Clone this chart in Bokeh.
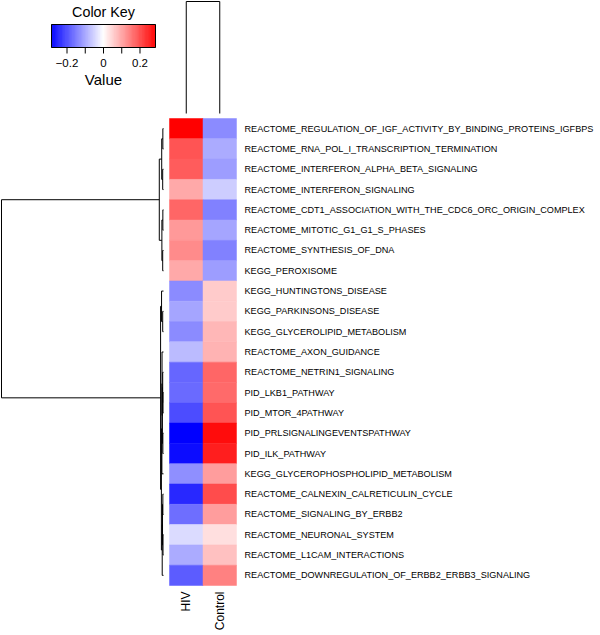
import numpy as np
from bokeh.plotting import figure
from bokeh.models import Range1d, LinearColorMapper, ColumnDataSource
from bokeh.transform import transform
from bokeh.embed import file_html
from bokeh.resources import INLINE
from bokeh.core.properties import value

# ---------------- data ----------------
pathways = [
    "REACTOME_REGULATION_OF_IGF_ACTIVITY_BY_BINDING_PROTEINS_IGFBPS",
    "REACTOME_RNA_POL_I_TRANSCRIPTION_TERMINATION",
    "REACTOME_INTERFERON_ALPHA_BETA_SIGNALING",
    "REACTOME_INTERFERON_SIGNALING",
    "REACTOME_CDT1_ASSOCIATION_WITH_THE_CDC6_ORC_ORIGIN_COMPLEX",
    "REACTOME_MITOTIC_G1_G1_S_PHASES",
    "REACTOME_SYNTHESIS_OF_DNA",
    "KEGG_PEROXISOME",
    "KEGG_HUNTINGTONS_DISEASE",
    "KEGG_PARKINSONS_DISEASE",
    "KEGG_GLYCEROLIPID_METABOLISM",
    "REACTOME_AXON_GUIDANCE",
    "REACTOME_NETRIN1_SIGNALING",
    "PID_LKB1_PATHWAY",
    "PID_MTOR_4PATHWAY",
    "PID_PRLSIGNALINGEVENTSPATHWAY",
    "PID_ILK_PATHWAY",
    "KEGG_GLYCEROPHOSPHOLIPID_METABOLISM",
    "REACTOME_CALNEXIN_CALRETICULIN_CYCLE",
    "REACTOME_SIGNALING_BY_ERBB2",
    "REACTOME_NEURONAL_SYSTEM",
    "REACTOME_L1CAM_INTERACTIONS",
    "REACTOME_DOWNREGULATION_OF_ERBB2_ERBB3_SIGNALING",
]
samples = ["HIV", "Control"]
hiv = [0.285, 0.19, 0.18, 0.095, 0.17, 0.114, 0.13, 0.095,
       -0.13, -0.10, -0.13, -0.075, -0.17, -0.165, -0.20, -0.285, -0.27,
       -0.125, -0.24, -0.16, -0.04, -0.095, -0.18]
control = [-0.13, -0.095, -0.11, -0.057, -0.14, -0.10, -0.14, -0.11,
           0.057, 0.057, 0.08, 0.085, 0.17, 0.165, 0.19, 0.27, 0.25,
           0.11, 0.20, 0.11, 0.035, 0.07, 0.14]

# row dendrogram (leaf ids 0..22 in display order, merge k gets id 23+k)
row_merge_a = [0, 2, 23, 4, 6, 26, 25, 9, 8, 13, 12, 15, 33, 11, 36, 18, 20, 38, 40, 37, 31, 29]
row_merge_b = [1, 3, 24, 5, 7, 27, 28, 10, 30, 14, 32, 16, 34, 35, 17, 19, 21, 39, 22, 41, 42, 43]
row_merge_h = [0.004, 0.005, 0.011, 0.004, 0.005, 0.010, 0.026, 0.005, 0.012, 0.003, 0.005,
               0.004, 0.007, 0.009, 0.010, 0.004, 0.003, 0.006, 0.008, 0.013, 0.018, 1.0]
# column dendrogram
col_merge_a = [0]
col_merge_b = [1]
col_merge_h = [1.0]

key_min, key_max = -0.285, 0.285
key_ticks = [-0.2, -0.1, 0.0, 0.1, 0.2]
key_tick_labels = ["\u22120.2", "0", "0.2"]
key_label_ticks = [-0.2, 0.0, 0.2]

# ---------------- layout (reference pixel positions) ----------------
W, H = 600, 635
OFF = 0
L_PX, R_PX, T_PX, B_PX = OFF, OFF + W, OFF, OFF + H
HM_LEFT, HM_RIGHT, HM_TOP, HM_BOTTOM = 169, 236, 118, 585
RD_LEAF, RD_ROOT = 163, 1
CD_LEAF, CD_ROOT = 113, 1
KEY_LEFT, KEY_RIGHT, KEY_BOTTOM = 51, 155, 47


def span(pa, va, pb, vb, lo, hi):
    k = (vb - va) / (pb - pa)
    return va + (lo - pa) * k, va + (hi - pa) * k


nrow, ncol = len(pathways), len(samples)
x0, x1 = span(HM_LEFT, -0.5, HM_RIGHT, ncol - 0.5, L_PX, R_PX)
y_top, y_bot = span(HM_TOP, -0.5, HM_BOTTOM, nrow - 0.5, T_PX, B_PX)
col_px = (HM_RIGHT - HM_LEFT) / ncol
row_px = (HM_BOTTOM - HM_TOP) / nrow

rd_l, rd_r = span(RD_LEAF, 0.0, RD_ROOT, max(row_merge_h), L_PX, R_PX)
cd_t, cd_b = span(CD_LEAF, 0.0, CD_ROOT, max(col_merge_h), T_PX, B_PX)
kx_l, kx_r = span(KEY_LEFT, key_min, KEY_RIGHT, key_max, L_PX, R_PX)
# key y axis: units of pixels upward from the bar bottom
ky_t, ky_b = span(KEY_BOTTOM, 0.0, KEY_BOTTOM - 1, 1.0, T_PX, B_PX)

p = figure(width=W, height=H, output_backend="svg", toolbar_location=None,
           x_range=Range1d(x0, x1), y_range=Range1d(y_bot, y_top),
           min_border=0, min_border_left=0, min_border_right=0,
           min_border_top=0, min_border_bottom=0)
p.extra_x_ranges = {"rd": Range1d(rd_l, rd_r), "key": Range1d(kx_l, kx_r)}
p.extra_y_ranges = {"cd": Range1d(cd_b, cd_t), "key": Range1d(ky_b, ky_t)}
p.xaxis.visible = False
p.yaxis.visible = False
p.xgrid.visible = False
p.ygrid.visible = False
p.outline_line_color = None
p.background_fill_color = "white"
p.border_fill_color = "white"

# palette blue-white-red
t = np.linspace(0, 1, 255)
pal = []
for v in t:
    if v <= 0.5:
        c = int(round(255 * 2 * v))
        pal.append("#%02x%02x%02x" % (c, c, 255))
    else:
        c = int(round(255 * (2 - 2 * v)))
        pal.append("#%02x%02x%02x" % (255, c, c))
mapper = LinearColorMapper(palette=pal, low=key_min, high=key_max)

# heatmap
xs, ys, vals = [], [], []
for j, series in enumerate([hiv, control]):
    for i, v in enumerate(series):
        xs.append(j)
        ys.append(i)
        vals.append(v)
src = ColumnDataSource(dict(x=xs, y=ys, v=vals))
p.rect(x="x", y="y", width=1, height=1, source=src,
       fill_color=transform("v", mapper), line_color=transform("v", mapper), line_width=0.5)


def dendro(n, a_list, b_list, h_list):
    pos = {i: float(i) for i in range(n)}
    hgt = {i: 0.0 for i in range(n)}
    p0, h0, p1, h1 = [], [], [], []
    for k, (a, b, h) in enumerate(zip(a_list, b_list, h_list)):
        for c in (a, b):
            p0.append(pos[c]); h0.append(hgt[c]); p1.append(pos[c]); h1.append(h)
        p0.append(pos[a]); h0.append(h); p1.append(pos[b]); h1.append(h)
        pos[n + k] = (pos[a] + pos[b]) / 2
        hgt[n + k] = h
    return p0, h0, p1, h1


rp0, rh0, rp1, rh1 = dendro(nrow, row_merge_a, row_merge_b, row_merge_h)
p.segment(x0=rh0, y0=rp0, x1=rh1, y1=rp1, x_range_name="rd",
          line_color="black", line_width=1)
cp0, ch0, cp1, ch1 = dendro(ncol, col_merge_a, col_merge_b, col_merge_h)
p.segment(x0=cp0, y0=ch0, x1=cp1, y1=ch1, y_range_name="cd",
          line_color="black", line_width=1)

# row labels
p.text(x=[ncol - 0.5 + 8 / col_px] * nrow, y=list(range(nrow)), text=pathways,
       text_font=value("Liberation Sans"), text_font_size="9.1px",
       text_baseline="middle", text_align="left", text_color="black")
# column labels
p.text(x=list(range(ncol)), y=[nrow - 0.5 + 6 / row_px] * ncol, text=samples,
       angle=np.pi / 2, text_font=value("Liberation Sans"), text_font_size="12px",
       text_baseline="middle", text_align="right", text_color="black")

# color key
edges = np.linspace(key_min, key_max, 121)
mids = (edges[:-1] + edges[1:]) / 2
ksrc = ColumnDataSource(dict(l=edges[:-1], r=edges[1:], m=mids))
p.quad(left="l", right="r", bottom=0, top=23, source=ksrc,
       fill_color=transform("m", mapper), line_color=transform("m", mapper), line_width=0.5,
       x_range_name="key", y_range_name="key")
p.quad(left=key_min, right=key_max, bottom=0, top=23, fill_color=None,
       line_color="black", line_width=1, x_range_name="key", y_range_name="key")
p.segment(x0=key_ticks, y0=[0] * len(key_ticks), x1=key_ticks, y1=[-6] * len(key_ticks),
          line_color="black", line_width=1, x_range_name="key", y_range_name="key")
p.text(x=key_label_ticks, y=[-15.5] * 3, text=key_tick_labels,
       text_font=value("Liberation Sans"), text_font_size="11.5px",
       text_baseline="middle", text_align="center", text_color="black",
       x_range_name="key", y_range_name="key")
p.text(x=[0.0], y=[35.5], text=["Color Key"],
       text_font=value("Liberation Sans"), text_font_size="14.3px",
       text_baseline="middle", text_align="center", text_color="black",
       x_range_name="key", y_range_name="key")
p.text(x=[0.0], y=[-32], text=["Value"],
       text_font=value("Liberation Sans"), text_font_size="15px",
       text_baseline="middle", text_align="center", text_color="black",
       x_range_name="key", y_range_name="key")

open("out.html", "w").write(file_html(p, INLINE))
